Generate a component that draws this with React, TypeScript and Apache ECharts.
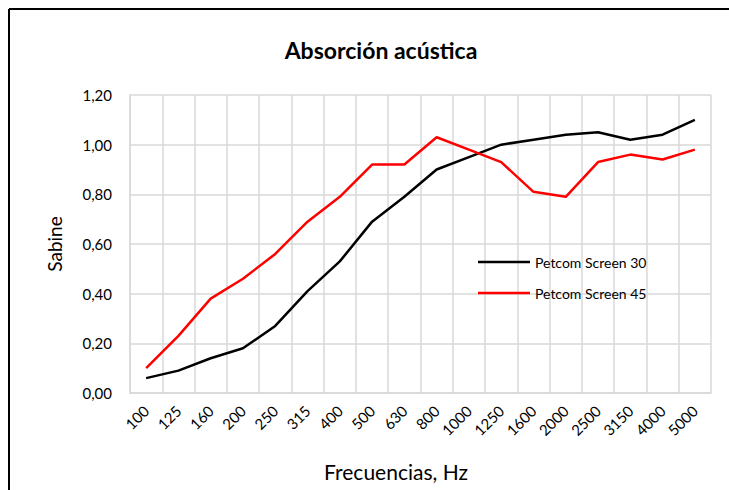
import React, { useEffect, useRef } from "react";
import * as echarts from "echarts";

const categories = ["100", "125", "160", "200", "250", "315", "400", "500", "630", "800", "1000", "1250", "1600", "2000", "2500", "3150", "4000", "5000"];
const screen30 = [0.06, 0.09, 0.14, 0.18, 0.27, 0.41, 0.53, 0.69, 0.79, 0.9, 0.95, 1.0, 1.02, 1.04, 1.05, 1.02, 1.04, 1.1];
const screen45 = [0.1, 0.23, 0.38, 0.46, 0.56, 0.69, 0.79, 0.92, 0.92, 1.03, 0.98, 0.93, 0.81, 0.79, 0.93, 0.96, 0.94, 0.98];
const yTicks = { min: 0, max: 1.2, interval: 0.2 };

const FONT = "Lato";

export default function App() {
  const ref = useRef<HTMLDivElement>(null);
  useEffect(() => {
    if (!ref.current) return;
    const chart = echarts.init(ref.current, undefined, { renderer: "svg" });
    chart.setOption({
      animation: false,
      backgroundColor: "#ffffff",
      textStyle: { fontFamily: FONT },
      title: {
        text: "Absorción acústica",
        left: 376,
        textAlign: "center",
        top: 33,
        textStyle: { fontFamily: FONT, fontSize: 23, fontWeight: "bold", color: "#000" },
      },
      graphic: [
        { type: "line", shape: { x1: 9, y1: 9, x2: 729, y2: 9 }, style: { stroke: "#000", lineWidth: 2 } },
        { type: "line", shape: { x1: 9, y1: 9, x2: 9, y2: 490 }, style: { stroke: "#000", lineWidth: 2 } },
      ],
      grid: { left: 130, right: 18, top: 95, bottom: 97 },
      legend: {
        orient: "vertical",
        left: 473,
        top: 249,
        icon: "rect",
        itemWidth: 52,
        itemHeight: 2.5,
        itemGap: 15,
        textStyle: { fontFamily: FONT, fontSize: 14, lineHeight: 16, color: "#000" },
        data: ["Petcom Screen 30", "Petcom Screen 45"],
      },
      xAxis: {
        type: "category",
        data: categories,
        boundaryGap: true,
        name: "Frecuencias, Hz",
        nameLocation: "middle",
        nameGap: 68,
        nameTextStyle: { fontFamily: FONT, fontSize: 21, color: "#000", padding: [0, 49, 0, 0] },
        axisLine: { show: true, lineStyle: { color: "#d9d9d9", width: 1.5 } },
        axisTick: { show: false },
        axisLabel: { rotate: 45, fontSize: 15, color: "#000", margin: 15, fontFamily: FONT, interval: 0 },
        splitLine: { show: true, interval: 0, lineStyle: { color: "#d9d9d9", width: 1.5 } },
      },
      yAxis: {
        type: "value",
        min: yTicks.min,
        max: yTicks.max,
        interval: yTicks.interval,
        name: "Sabine",
        nameLocation: "middle",
        nameGap: 66,
        nameTextStyle: { fontFamily: FONT, fontSize: 19, color: "#000" },
        axisLine: { show: true, lineStyle: { color: "#d9d9d9", width: 1.5 } },
        axisTick: { show: false },
        axisLabel: {
          fontSize: 15,
          color: "#000",
          margin: 18,
          fontFamily: FONT,
          formatter: (v: number) => v.toFixed(2).replace(".", ","),
        },
        splitLine: { show: true, lineStyle: { color: "#d9d9d9", width: 1.5 } },
      },
      series: [
        {
          name: "Petcom Screen 30",
          type: "line",
          data: screen30,
          symbol: "none",
          lineStyle: { color: "#000000", width: 2.5 },
          itemStyle: { color: "#000000" },
        },
        {
          name: "Petcom Screen 45",
          type: "line",
          data: screen45,
          symbol: "none",
          lineStyle: { color: "#ff0000", width: 2.5 },
          itemStyle: { color: "#ff0000" },
        },
      ],
    });
    return () => chart.dispose();
  }, []);
  return <div ref={ref} style={{ position: "fixed", left: 0, top: 0, width: 729, height: 490 }} />;
}
